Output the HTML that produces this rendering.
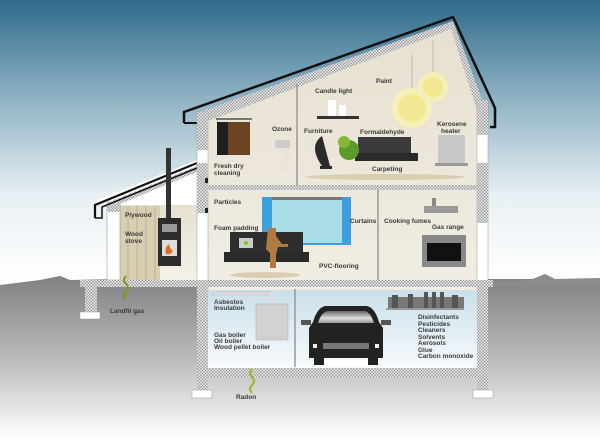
<!DOCTYPE html>
<html><head><meta charset="utf-8"><style>
html,body{margin:0;padding:0;width:600px;height:439px;overflow:hidden;background:#fff}
svg text{font-family:"Liberation Sans",sans-serif;font-weight:bold;font-size:6.5px;fill:#3a3a3a}
</style></head><body>
<svg width="600" height="439" viewBox="0 0 600 439" xmlns="http://www.w3.org/2000/svg">
<defs>
<linearGradient id="sky" x1="0" y1="0" x2="0" y2="1">
<stop offset="0" stop-color="#2f6b8a"/><stop offset="0.35" stop-color="#8fb2c4"/><stop offset="0.7" stop-color="#e8f0f3"/><stop offset="1" stop-color="#ffffff"/>
</linearGradient>
<linearGradient id="gnd" x1="0" y1="0" x2="0" y2="1">
<stop offset="0" stop-color="#7f8082"/><stop offset="0.5" stop-color="#b9babb"/><stop offset="1" stop-color="#ffffff"/>
</linearGradient>
<linearGradient id="base" x1="0" y1="0" x2="0" y2="1">
<stop offset="0" stop-color="#c9dfea"/><stop offset="1" stop-color="#f7fbfc"/>
</linearGradient>
<linearGradient id="room" x1="0" y1="0" x2="0" y2="1">
<stop offset="0" stop-color="#e6e0cf"/><stop offset="1" stop-color="#f4f1ea"/>
</linearGradient>
<linearGradient id="glass" x1="0" y1="0" x2="0" y2="1">
<stop offset="0" stop-color="#666"/><stop offset="0.6" stop-color="#ddd"/><stop offset="1" stop-color="#999"/>
</linearGradient>
<pattern id="hatch" width="3" height="3" patternUnits="userSpaceOnUse">
<rect width="3" height="3" fill="#e2e2e2"/><path d="M0 0L3 3M3 0L0 3" stroke="#8a8a8a" stroke-width="0.5"/>
</pattern>
</defs>
<rect x="0" y="0" width="600" height="280" fill="url(#sky)"/>
<path d="M0 285 L40 280 L60 276 L70 280 L120 279 L600 279 L600 439 L0 439Z" fill="url(#gnd)"/>
<path d="M490 281 L530 280 L545 274 L555 279 L600 278 L600 286 L490 286Z" fill="#8a8b8c"/>
<!-- lean-to -->
<polygon points="97,200 197,160 197,280 107,280 107,205" fill="#fff"/>
<rect x="120" y="205" width="77" height="75" fill="url(#room)"/>
<rect x="120" y="206" width="40" height="74" fill="#d8ceb2"/>
<g stroke="#bfb396" stroke-width="1"><line x1="128" y1="206" x2="128" y2="280"/><line x1="137" y1="206" x2="137" y2="280"/><line x1="146" y1="206" x2="146" y2="280"/><line x1="155" y1="206" x2="155" y2="280"/></g>
<rect x="107" y="202" width="13" height="78" fill="#fff" stroke="#888" stroke-width="0.5"/>
<polygon points="107,203 197,166 197,172 120,204 120,212 107,212" fill="url(#hatch)"/>
<polyline points="95,218 95,205 197,163" fill="none" stroke="#111" stroke-width="2.2"/>
<polyline points="95,218 102,218 102,207 197,168" fill="none" stroke="#111" stroke-width="1.5"/>
<!-- stove -->
<rect x="166" y="148" width="5" height="72" fill="#333"/>
<rect x="158" y="218" width="23" height="48" fill="#2c2c2c"/>
<rect x="162" y="224" width="15" height="8" fill="#999"/>
<rect x="162" y="240" width="15" height="16" fill="#ddd"/>
<path d="M166 254 q-2 -6 3 -10 q1 5 4 7 q-2 4 -7 3z" fill="#e07020"/>
<!-- main house interior -->
<polygon points="197,118 453,22 477,90 477,370 197,370" fill="url(#room)"/>
<rect x="208" y="290" width="270" height="78" fill="url(#base)"/>
<!-- roof insulation band -->
<polygon points="197,113 453,21 486,110 477,110 451,29 208,121 197,125" fill="url(#hatch)"/>
<polyline points="184,123 184,112 453,17 495,108 495,127 490,127" fill="none" stroke="#111" stroke-width="2.5"/>
<polyline points="184,123 197,123" fill="none" stroke="#111" stroke-width="2"/>
<!-- walls -->
<rect x="197" y="112" width="11" height="178" fill="#fff" stroke="#999" stroke-width="0.5"/>
<rect x="197" y="112" width="11" height="38" fill="url(#hatch)"/>
<rect x="197" y="163" width="11" height="50" fill="url(#hatch)"/>
<rect x="477" y="100" width="11" height="190" fill="#fff" stroke="#999" stroke-width="0.5"/>
<rect x="477" y="100" width="11" height="35" fill="url(#hatch)"/>
<rect x="477" y="163" width="11" height="60" fill="url(#hatch)"/>
<rect x="205" y="178" width="3" height="5" fill="#222"/><rect x="205" y="208" width="3" height="5" fill="#222"/>
<!-- floors -->
<rect x="197" y="185" width="291" height="5" fill="url(#hatch)"/>
<rect x="80" y="280" width="413" height="7" fill="url(#hatch)"/>
<line x1="297" y1="84" x2="297" y2="185" stroke="#999" stroke-width="1.5"/>
<line x1="378" y1="190" x2="378" y2="280" stroke="#999" stroke-width="1.5"/>
<!-- basement -->
<rect x="197" y="287" width="11" height="103" fill="url(#hatch)"/>
<rect x="477" y="287" width="11" height="103" fill="url(#hatch)"/>
<rect x="208" y="368" width="269" height="9" fill="url(#hatch)"/>
<line x1="295" y1="289" x2="295" y2="367" stroke="#999" stroke-width="1.5"/>
<rect x="192" y="390" width="20" height="8" fill="#fff" stroke="#999" stroke-width="0.5"/>
<rect x="473" y="390" width="20" height="8" fill="#fff" stroke="#999" stroke-width="0.5"/>
<rect x="85" y="287" width="12" height="25" fill="url(#hatch)"/>
<rect x="80" y="312" width="20" height="7" fill="#fff" stroke="#999" stroke-width="0.5"/>
<!-- upper furniture -->
<line x1="216" y1="119" x2="252" y2="119" stroke="#333" stroke-width="1.2"/>
<rect x="217" y="122" width="15" height="33" fill="#1e1e1e"/>
<rect x="228" y="122" width="22" height="33" fill="#6b4423"/>
<rect x="275" y="140" width="15" height="8" fill="#ccc"/>
<rect x="281" y="148" width="8" height="22" fill="#e8e4dc"/>
<rect x="317" y="116" width="42" height="3" fill="#333"/>
<rect x="328" y="100" width="8" height="16" fill="#fff"/><rect x="339" y="105" width="7" height="11" fill="#fff"/>
<line x1="412" y1="55" x2="412" y2="92" stroke="#bbb"/><line x1="433" y1="40" x2="433" y2="72" stroke="#bbb"/>
<circle cx="412" cy="108" r="20" fill="#f6f0b8"/><circle cx="412" cy="108" r="14" fill="#ece06a" opacity="0.5"/>
<circle cx="433" cy="87" r="15" fill="#f6f0b8"/><circle cx="433" cy="87" r="10" fill="#ece06a" opacity="0.5"/>
<path d="M322 136 q-14 10 0 30 l8 0z" fill="#2a2a2a"/><rect x="320" y="166" width="12" height="3" fill="#2a2a2a"/>
<rect x="358" y="137" width="53" height="16" fill="#3a3a3a"/><rect x="355" y="153" width="63" height="8" fill="#2a2a2a"/>
<circle cx="349" cy="150" r="10" fill="#5c9a2a"/><circle cx="344" cy="142" r="6" fill="#86b838"/>
<rect x="438" y="135" width="27" height="28" fill="#c8c8c8"/><rect x="435" y="163" width="33" height="3" fill="#999"/>
<ellipse cx="385" cy="177" rx="80" ry="3" fill="#d9ceb1"/>
<!-- ground floor furniture -->
<rect x="262" y="197" width="89" height="48" fill="#3aa0e0"/>
<rect x="272" y="200" width="70" height="43" fill="#a8dde8"/>
<rect x="272" y="197" width="70" height="3" fill="#777"/>
<rect x="230" y="232" width="73" height="20" fill="#2e2e2e"/>
<rect x="224" y="252" width="85" height="10" fill="#2a2a2a"/>
<rect x="239" y="238" width="14" height="10" fill="#ccc"/><circle cx="246" cy="243" r="2" fill="#7c2"/>
<path d="M268 228 h8 v8 l6 8 h6 v3 h-10 l-2 8 v13 h-6 v-15 l-4 -4z" fill="#b07a45"/>
<ellipse cx="265" cy="275" rx="35" ry="3" fill="#d9ceb1"/>
<rect x="432" y="198" width="4" height="8" fill="#888"/><rect x="424" y="206" width="34" height="7" fill="#999"/>
<rect x="422" y="235" width="44" height="32" fill="#888"/><rect x="427" y="243" width="34" height="18" fill="#111"/>
<!-- basement items -->
<rect x="212" y="292" width="62" height="3" fill="#ddd" stroke="#bbb" stroke-width="0.5"/>
<rect x="270" y="292" width="4" height="14" fill="#ddd"/>
<rect x="256" y="304" width="32" height="36" fill="#d2d2d2" stroke="#aaa" stroke-width="0.5"/>
<!-- car front view -->
<rect x="301" y="320" width="10" height="5" fill="#555"/><rect x="381" y="320" width="10" height="5" fill="#555"/>
<path d="M313 322 q4 -14 12 -16 h42 q8 2 12 16 l4 6 v30 h-74 v-30z" fill="#222"/>
<path d="M318 323 q3 -10 9 -12 h38 q6 2 9 12z" fill="url(#glass)"/>
<rect x="323" y="343" width="46" height="6" fill="#777"/>
<rect x="313" y="344" width="4" height="4" fill="#eee"/><rect x="375" y="344" width="4" height="4" fill="#eee"/>
<rect x="314" y="358" width="10" height="7" fill="#222"/><rect x="368" y="358" width="10" height="7" fill="#222"/>
<rect x="324" y="360" width="44" height="6" fill="#fff"/>
<!-- shelf of bottles -->
<rect x="388" y="297" width="76" height="11" fill="#777"/>
<g fill="#555"><rect x="392" y="295" width="6" height="13"/><rect x="408" y="294" width="5" height="14"/><rect x="424" y="292" width="4" height="16"/><rect x="432" y="292" width="4" height="16"/><rect x="440" y="292" width="4" height="16"/><rect x="452" y="295" width="6" height="13"/></g>
<rect x="386" y="308" width="78" height="2" fill="#999"/>
<!-- gases -->
<path d="M126 300 q-4 -4 0 -8 q4 -4 0 -8 q-4 -4 0 -8" fill="none" stroke="#7c9a1c" stroke-width="2"/>
<path d="M252 393 q-4 -4 0 -8 q4 -4 0 -8 q-4 -4 0 -8" fill="none" stroke="#9cba22" stroke-width="2"/>
<!-- labels -->
<text x="315" y="93">Candle light</text>
<text x="376" y="83">Paint</text>
<text x="272" y="131">Ozone</text>
<text x="304" y="133">Furniture</text>
<text x="360" y="134">Formaldehyde</text>
<text x="437" y="126">Kerosene</text><text x="441" y="133">heater</text>
<text x="214" y="168">Fresh dry</text><text x="214" y="175">cleaning</text>
<text x="372" y="171">Carpeting</text>
<text x="214" y="204">Particles</text>
<text x="350" y="223">Curtains</text>
<text x="384" y="223">Cooking fumes</text>
<text x="432" y="229">Gas range</text>
<text x="214" y="230">Foam padding</text>
<text x="319" y="268">PVC-flooring</text>
<text x="125" y="217">Plywood</text>
<text x="125" y="236">Wood</text><text x="125" y="243">stove</text>
<text x="110" y="313">Landfil gas</text>
<text x="214" y="304">Asbestos</text><text x="214" y="310">Insulation</text>
<text x="214" y="337">Gas boiler</text><text x="214" y="343">Oil boiler</text><text x="214" y="349">Wood pellet boiler</text>
<text x="418" y="319">Disinfectants</text><text x="418" y="326">Pesticides</text><text x="418" y="332">Cleaners</text><text x="418" y="339">Solvents</text><text x="418" y="345">Aerosols</text><text x="418" y="352">Glue</text><text x="418" y="358">Carbon monoxide</text>
<text x="236" y="399">Radon</text>
</svg>
</body></html>
